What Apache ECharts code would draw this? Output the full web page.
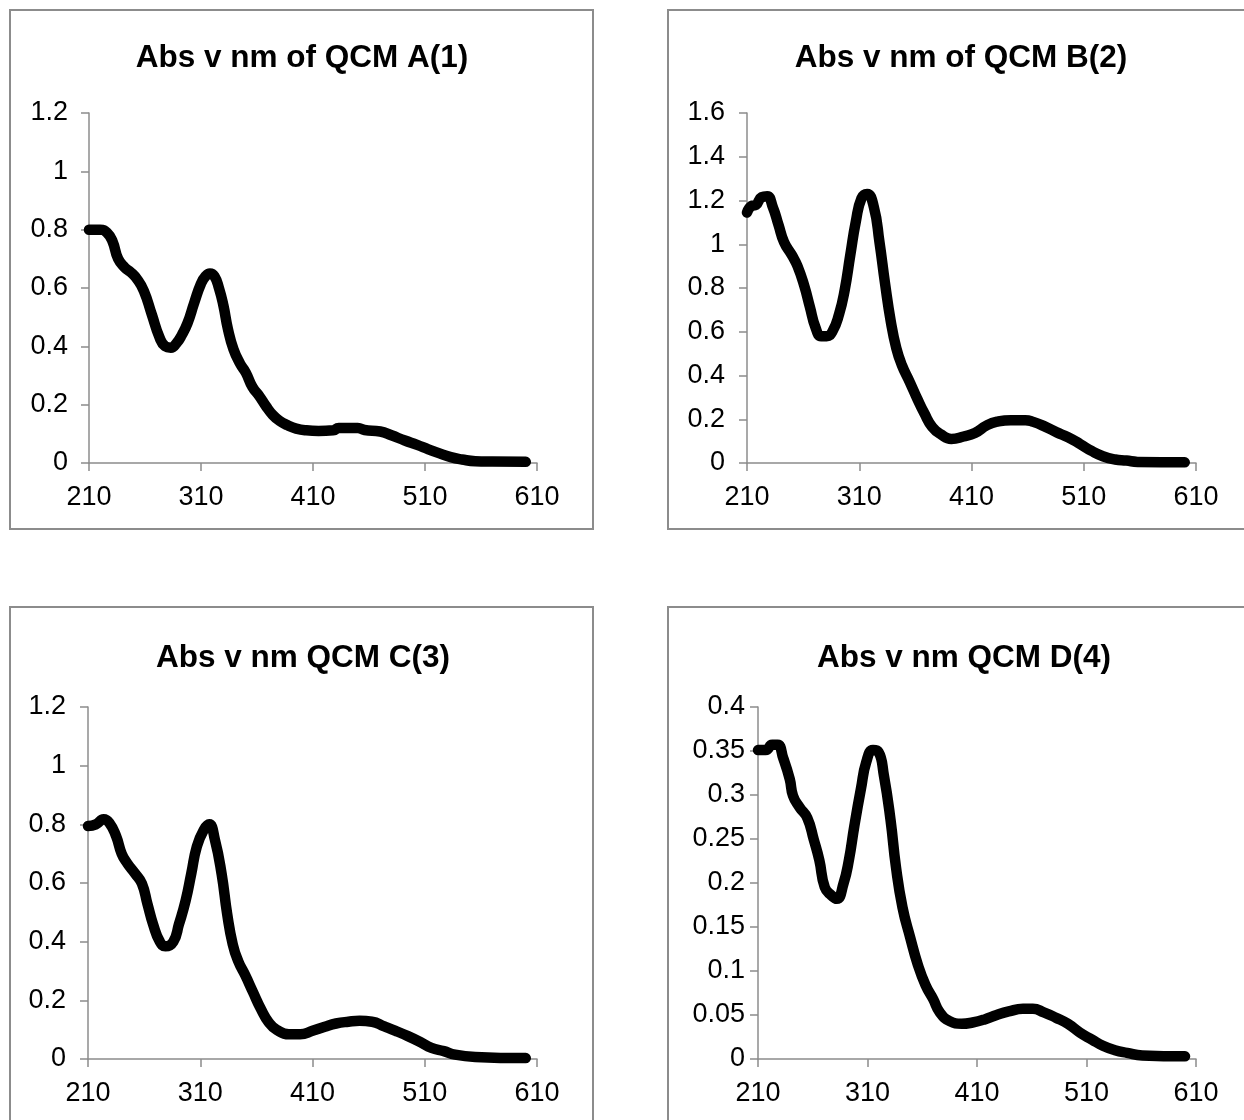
<!DOCTYPE html>
<html>
<head>
<meta charset="utf-8">
<title>Abs v nm – QCM A–D</title>
<script src="https://cdn.jsdelivr.net/npm/echarts@6/dist/echarts.min.js"></script>
<style>
  html, body { margin: 0; padding: 0; background: #fff; }
  #chart { width: 1244px; height: 1120px; }
</style>
</head>
<body>
<div id="chart"></div>
<script>
// Wavelength ticks shared by all four spectra (nm)
const nmTicks = [210, 310, 410, 510, 610];

// QCM A(1): wavelength (nm) and absorbance
const nmA = [210, 220, 226, 231, 236, 242, 247, 253, 259, 266, 273, 278, 283, 288, 293, 298, 304, 310, 314, 318, 322, 326, 330, 334, 339, 345, 350, 356, 362, 368, 374, 380, 387, 395, 404, 415, 428, 433, 450, 456, 470, 480, 492, 503, 513, 523, 533, 543, 555, 570, 600];
const absA = [0.80, 0.80, 0.79, 0.76, 0.70, 0.67, 0.655, 0.63, 0.59, 0.51, 0.43, 0.40, 0.395, 0.41, 0.44, 0.48, 0.55, 0.615, 0.64, 0.65, 0.64, 0.60, 0.54, 0.46, 0.39, 0.34, 0.31, 0.26, 0.23, 0.195, 0.165, 0.145, 0.13, 0.118, 0.112, 0.11, 0.112, 0.12, 0.12, 0.113, 0.108, 0.095, 0.077, 0.062, 0.047, 0.033, 0.02, 0.012, 0.006, 0.005, 0.004];

// QCM B(2)
const nmB = [210, 214, 218, 223, 228, 233, 238, 243, 250, 255, 261, 266, 271, 276, 281, 286, 292, 297, 302, 307, 312, 317, 323, 328, 333, 338, 343, 348, 355, 362, 368, 375, 383, 392, 403, 413, 424, 434, 445, 458, 465, 476, 486, 496, 507, 517, 527, 538, 548, 558, 600];
const absB = [1.145, 1.175, 1.18, 1.215, 1.22, 1.17, 1.09, 1.01, 0.95, 0.90, 0.81, 0.714, 0.62, 0.58, 0.58, 0.60, 0.68, 0.79, 0.95, 1.105, 1.21, 1.23, 1.17, 1.01, 0.82, 0.65, 0.525, 0.447, 0.37, 0.29, 0.227, 0.165, 0.13, 0.11, 0.121, 0.137, 0.173, 0.19, 0.196, 0.196, 0.188, 0.165, 0.14, 0.118, 0.086, 0.055, 0.031, 0.016, 0.011, 0.005, 0.003];

// QCM C(3)
const nmC = [210, 217, 224, 229, 235, 240, 245, 252, 258, 263, 268, 274, 279, 286, 291, 297, 302, 307, 313, 318, 323, 329, 334, 339, 344, 350, 357, 364, 371, 378, 389, 399, 410, 421, 431, 442, 452, 463, 474, 484, 495, 506, 516, 527, 537, 555, 600];
const absC = [0.794, 0.80, 0.817, 0.805, 0.76, 0.70, 0.667, 0.632, 0.598, 0.528, 0.459, 0.40, 0.384, 0.40, 0.459, 0.54, 0.632, 0.725, 0.78, 0.80, 0.748, 0.632, 0.494, 0.39, 0.332, 0.286, 0.228, 0.171, 0.125, 0.10, 0.084, 0.084, 0.096, 0.11, 0.121, 0.127, 0.13, 0.127, 0.111, 0.096, 0.078, 0.058, 0.038, 0.027, 0.015, 0.007, 0.003];

// QCM D(4)
const nmD = [210, 217, 223, 228, 233, 239, 242, 248, 255, 261, 266, 271, 277, 282, 288, 293, 298, 304, 309, 315, 320, 325, 331, 336, 342, 349, 356, 363, 370, 376, 385, 396, 406, 417, 428, 439, 452, 461, 471, 482, 493, 504, 515, 525, 536, 547, 561, 600];
const absD = [0.351, 0.351, 0.357, 0.357, 0.342, 0.318, 0.299, 0.286, 0.274, 0.249, 0.226, 0.195, 0.186, 0.182, 0.199, 0.226, 0.265, 0.307, 0.338, 0.351, 0.349, 0.322, 0.272, 0.218, 0.172, 0.138, 0.107, 0.084, 0.068, 0.053, 0.043, 0.040, 0.0415, 0.045, 0.05, 0.054, 0.057, 0.057, 0.053, 0.047, 0.040, 0.030, 0.022, 0.015, 0.010, 0.007, 0.004, 0.003];

const panels = [
  { title: 'Abs v nm of QCM A(1)', nm: nmA, abs: absA, yMax: 1.2, yStep: 0.2, yLabelGap: 21,
    grid: { left: 89, top: 113, width: 448, height: 350 }, box: [10, 10, 583, 519], titleX: 302, titleY: 58 },
  { title: 'Abs v nm of QCM B(2)', nm: nmB, abs: absB, yMax: 1.6, yStep: 0.2, yLabelGap: 22,
    grid: { left: 747, top: 113, width: 449, height: 350 }, box: [668, 10, 590, 519], titleX: 961, titleY: 58 },
  { title: 'Abs v nm QCM C(3)', nm: nmC, abs: absC, yMax: 1.2, yStep: 0.2, yLabelGap: 22,
    grid: { left: 88, top: 707, width: 449, height: 352 }, box: [10, 607, 583, 530], titleX: 303, titleY: 658 },
  { title: 'Abs v nm QCM D(4)', nm: nmD, abs: absD, yMax: 0.4, yStep: 0.05, yLabelGap: 13,
    grid: { left: 758, top: 707, width: 438, height: 352 }, box: [668, 607, 590, 530], titleX: 964, titleY: 658 }
];

const axisGray = '#8c8c8c';
const fontFamily = '"Liberation Sans", Arial, sans-serif';

const option = {
  animation: false,
  backgroundColor: '#fff',
  title: panels.map(p => ({
    text: p.title,
    left: p.titleX,
    top: p.titleY,
    textAlign: 'center',
    textVerticalAlign: 'middle',
    padding: 0,
    textStyle: { fontFamily, fontSize: 31.5, fontWeight: 'bold', color: '#000' }
  })),
  graphic: panels.map(p => ({
    type: 'rect',
    silent: true,
    shape: { x: p.box[0], y: p.box[1], width: p.box[2], height: p.box[3] },
    style: { fill: null, stroke: axisGray, lineWidth: 2 }
  })),
  grid: panels.map(p => Object.assign({ containLabel: false }, p.grid)),
  xAxis: panels.map((p, i) => ({
    type: 'value',
    gridIndex: i,
    min: 210,
    max: 610,
    axisLine: { show: true, onZero: false, lineStyle: { color: axisGray, width: 1.5 } },
    axisTick: { show: true, length: 8, lineStyle: { color: axisGray, width: 1.5 }, customValues: nmTicks },
    axisLabel: { customValues: nmTicks, fontFamily, fontSize: 27, color: '#000', margin: 21 },
    splitLine: { show: false }
  })),
  yAxis: panels.map((p, i) => ({
    type: 'value',
    gridIndex: i,
    min: 0,
    max: p.yMax,
    interval: p.yStep,
    axisLine: { show: true, lineStyle: { color: axisGray, width: 1.5 } },
    axisTick: { show: true, length: 8, lineStyle: { color: axisGray, width: 1.5 } },
    axisLabel: { fontFamily, fontSize: 27, color: '#000', margin: p.yLabelGap },
    splitLine: { show: false }
  })),
  series: panels.map((p, i) => ({
    type: 'line',
    xAxisIndex: i,
    yAxisIndex: i,
    data: p.nm.map((x, k) => [x, p.abs[k]]),
    showSymbol: false,
    smooth: 0.5,
    clip: false,
    lineStyle: { color: '#000', width: 10.5, cap: 'round', join: 'round' }
  }))
};

const chart = echarts.init(document.getElementById('chart'), null, { renderer: 'canvas' });
chart.setOption(option);
</script>
</body>
</html>
